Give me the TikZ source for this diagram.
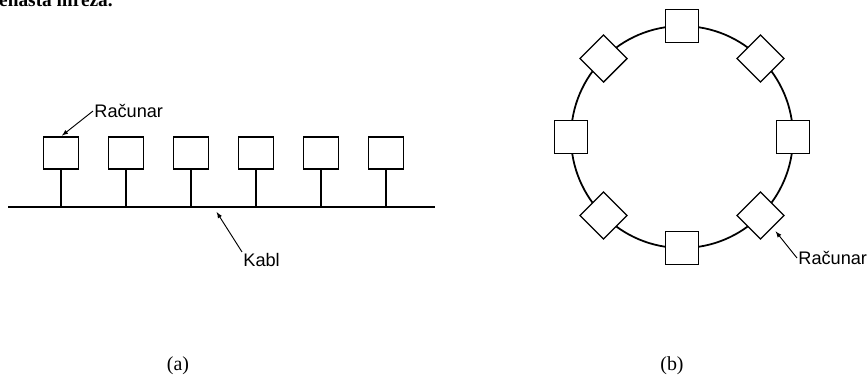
\documentclass[tikz,border=0pt]{standalone}
\usepackage{fontspec}
\setmainfont{Liberation Serif}
\newfontfamily\oznaka{Liberation Sans}
\usetikzlibrary{calc,arrows}

\tikzset{
  racunar/.style={draw, fill=white, line width=1.1pt, minimum width=1.05cm,
                  minimum height=0.96cm, inner sep=0pt},
  vod/.style={line width=1.5pt},
  natpis/.style={font=\oznaka\fontsize{15.5}{17}\selectfont, inner sep=1pt},
  strelica/.style={-latex, line width=0.8pt, shorten >=1pt}
}

\begin{document}
\begin{tikzpicture}[x=0.03cm,y=-0.03cm]
\useasboundingbox (0,0) rectangle (868,378);

% naslov, odsecen na vrhu strane
\node[anchor=base west, inner sep=0pt,
      font=\bfseries\fontsize{16.5}{18}\selectfont] (naslov) at (-1,6) {enasta mreža.};

% (a) magistrala
\coordinate (kA) at (8,207);
\coordinate (kB) at (435,207);
\draw[vod] (kA) -- (kB);
\foreach \x [count=\i] in {61,126,...,386}{
  \node[racunar] (b\i) at (\x,153) {};
  \draw[vod] (b\i.south) -- (b\i.south |- kA);
}
\node[natpis, anchor=west] (racA) at (93,111) {Računar};
\draw[strelica] (racA.west) -- (b1.north);

\node[natpis, anchor=west] (kabl) at (242,260) {Kabl};
\coordinate (kT) at (216,211);
\draw[strelica] (kabl.north west) -- (kT);

% (b) prsten
\coordinate (prsten) at (682,137);
\draw[vod] (prsten) circle [radius=3.33cm];
\foreach \a in {0,45,...,315}
  \node[racunar, rotate=\a, minimum width=1cm, minimum height=1cm]
    (r\a) at ($(prsten)+(\a:3.33cm)$) {};

\node[natpis, anchor=west] (racB) at (797,258) {Računar};
\draw[strelica, shorten >=4pt] (racB.west) -- (r315.east);

% oznake slika
\node[font=\fontsize{17}{19}\selectfont] (oznA) at (178,366) {(a)};
\node[font=\fontsize{17}{19}\selectfont] (oznB) at (672,366) {(b)};
\end{tikzpicture}
\end{document}
